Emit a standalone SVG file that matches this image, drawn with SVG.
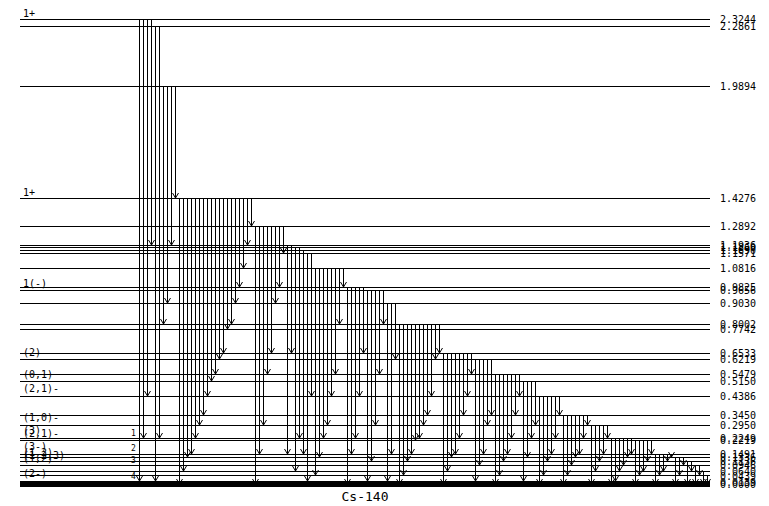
<svg xmlns="http://www.w3.org/2000/svg" width="769" height="506" viewBox="0 0 769 506">
<style>
.lv{stroke:#000;stroke-width:1;fill:none}
.t path{stroke:#000;stroke-width:1;fill:none;marker-end:url(#a)}
.e{font-family:"DejaVu Sans Mono","Liberation Mono",monospace;font-size:10px;fill:#000}
.s{font-family:"DejaVu Sans Mono","Liberation Mono",monospace;font-size:10px;fill:#000}
.d{font-family:"DejaVu Sans Mono","Liberation Mono",monospace;font-size:8px;fill:#000}
.ti{font-family:"DejaVu Sans Mono","Liberation Mono",monospace;font-size:13px;fill:#000}
</style>
<defs>
<marker id="a" markerWidth="10" markerHeight="10" refX="0" refY="0" orient="auto" markerUnits="userSpaceOnUse" style="overflow:visible"><path d="M-5,-3L0,0L-5,3" fill="none" stroke="#000" stroke-width="1"/></marker>
</defs>
<rect width="769" height="506" fill="#fff"/>
<g id="levels">
<g id="L0"><path class="lv" d="M20 19.5H710"/><text class="e" x="720" y="23">2.3244</text><text class="s" x="23" y="17">1+</text></g>
<g id="L1"><path class="lv" d="M20 26.5H710"/><text class="e" x="720" y="30">2.2861</text></g>
<g id="L2"><path class="lv" d="M20 86.5H710"/><text class="e" x="720" y="90">1.9894</text></g>
<g id="L3"><path class="lv" d="M20 198.5H710"/><text class="e" x="720" y="202">1.4276</text><text class="s" x="23" y="196">1+</text></g>
<g id="L4"><path class="lv" d="M20 226.5H710"/><text class="e" x="720" y="230">1.2892</text></g>
<g id="L5"><path class="lv" d="M20 245.5H710"/><text class="e" x="720" y="249">1.1936</text></g>
<g id="L6"><path class="lv" d="M20 247.5H710"/><text class="e" x="720" y="251">1.1860</text></g>
<g id="L7"><path class="lv" d="M20 250.5H710"/><text class="e" x="720" y="254">1.1690</text></g>
<g id="L8"><path class="lv" d="M20 253.5H710"/><text class="e" x="720" y="257">1.1571</text></g>
<g id="L9"><path class="lv" d="M20 268.5H710"/><text class="e" x="720" y="272">1.0816</text></g>
<g id="L10"><path class="lv" d="M20 287.5H710"/><text class="e" x="720" y="291">0.9825</text></g>
<g id="L11"><path class="lv" d="M20 290.5H710"/><text class="e" x="720" y="294">0.9656</text><text class="s" x="23" y="287">1(-)</text></g>
<g id="L12"><path class="lv" d="M20 303.5H710"/><text class="e" x="720" y="307">0.9030</text></g>
<g id="L13"><path class="lv" d="M20 324.5H710"/><text class="e" x="720" y="328">0.8002</text></g>
<g id="L14"><path class="lv" d="M20 329.5H710"/><text class="e" x="720" y="333">0.7742</text></g>
<g id="L15"><path class="lv" d="M20 353.5H710"/><text class="e" x="720" y="357">0.6533</text></g>
<g id="L16"><path class="lv" d="M20 359.5H710"/><text class="e" x="720" y="363">0.6219</text><text class="s" x="23" y="356">(2)</text></g>
<g id="L17"><path class="lv" d="M20 374.5H710"/><text class="e" x="720" y="378">0.5479</text></g>
<g id="L18"><path class="lv" d="M20 381.5H710"/><text class="e" x="720" y="385">0.5150</text><text class="s" x="23" y="378">(0,1)</text></g>
<g id="L19"><path class="lv" d="M20 396.5H710"/><text class="e" x="720" y="400">0.4386</text><text class="s" x="23" y="392">(2,1)-</text></g>
<g id="L20"><path class="lv" d="M20 415.5H710"/><text class="e" x="720" y="419">0.3450</text></g>
<g id="L21"><path class="lv" d="M20 425.5H710"/><text class="e" x="720" y="429">0.2950</text><text class="s" x="23" y="421">(1,0)-</text></g>
<g id="L22"><path class="lv" d="M20 438.5H710"/><text class="e" x="720" y="442">0.2249</text><text class="s" x="23" y="434">(3)</text></g>
<g id="L23"><path class="lv" d="M20 440.5H710"/><text class="e" x="720" y="444">0.2219</text><text class="s" x="23" y="437">(2,1)-</text></g>
<g id="L24"><path class="lv" d="M20 454.5H710"/><text class="e" x="720" y="458">0.1491</text><text class="s" x="23" y="450">(3-)</text></g>
<g id="L25"><path class="lv" d="M20 457.5H710"/><text class="e" x="720" y="461">0.1336</text><text class="s" x="23" y="456">(1,2)</text></g>
<g id="L26"><path class="lv" d="M20 461.5H710"/><text class="e" x="720" y="465">0.1136</text><text class="s" x="23" y="459">(1,2,3)</text></g>
<g id="L27"><path class="lv" d="M20 465.5H710"/><text class="e" x="720" y="469">0.0946</text><text class="s" x="23" y="462">(1,2)</text></g>
<g id="L28"><path class="lv" d="M20 471.5H710"/><text class="e" x="720" y="475">0.0640</text></g>
<g id="L29"><path class="lv" d="M20 475.5H710"/><text class="e" x="720" y="480">0.0439</text></g>
<g id="L30"><path class="lv" d="M20 481.5H710"/><text class="e" x="720" y="486">0.0139</text><text class="s" x="23" y="477">(2-)</text></g>
<g id="L31"><rect x="20" y="481" width="690" height="6" fill="#000"/><text class="e" x="720" y="488">0.0000</text></g>
</g>
<g id="marks">
<text class="d" x="131" y="436">1</text>
<text class="d" x="131" y="451">2</text>
<text class="d" x="131" y="463">3</text>
<text class="d" x="131" y="479">4</text>
</g>
<g id="connectors" class="t">
<path d="M139.5 19V481"/><path d="M143.5 19V438"/><path d="M147.5 19V396"/><path d="M151.5 19V245"/>
<path d="M155.5 26V481"/><path d="M159.5 26V438"/>
<path d="M163.5 86V324"/><path d="M167.5 86V303"/><path d="M171.5 86V245"/><path d="M175.5 86V198"/>
<path d="M179.5 198V484"/><path d="M183.5 198V471"/><path d="M187.5 198V457"/><path d="M191.5 198V454"/><path d="M195.5 198V438"/><path d="M199.5 198V425"/><path d="M203.5 198V415"/><path d="M207.5 198V396"/><path d="M211.5 198V381"/><path d="M215.5 198V374"/><path d="M219.5 198V359"/><path d="M223.5 198V353"/><path d="M227.5 198V329"/><path d="M231.5 198V324"/><path d="M235.5 198V303"/><path d="M239.5 198V287"/><path d="M243.5 198V268"/><path d="M247.5 198V245"/><path d="M251.5 198V226"/>
<path d="M255.5 226V484"/><path d="M259.5 226V454"/><path d="M263.5 226V425"/><path d="M267.5 226V374"/><path d="M271.5 226V353"/><path d="M275.5 226V303"/><path d="M279.5 226V287"/><path d="M283.5 226V253"/>
<path d="M287.5 245V454"/><path d="M291.5 245V353"/>
<path d="M295.5 247V471"/><path d="M299.5 247V438"/>
<path d="M303.5 250V454"/>
<path d="M307.5 253V481"/><path d="M311.5 253V396"/>
<path d="M315.5 268V475"/><path d="M319.5 268V457"/><path d="M323.5 268V438"/><path d="M327.5 268V425"/><path d="M331.5 268V396"/><path d="M335.5 268V374"/><path d="M339.5 268V324"/><path d="M343.5 268V287"/>
<path d="M347.5 287V484"/><path d="M351.5 287V454"/><path d="M355.5 287V438"/><path d="M359.5 287V396"/><path d="M363.5 287V353"/>
<path d="M367.5 290V481"/><path d="M371.5 290V461"/><path d="M375.5 290V425"/><path d="M379.5 290V374"/><path d="M383.5 290V324"/>
<path d="M387.5 303V481"/><path d="M391.5 303V454"/><path d="M395.5 303V359"/>
<path d="M399.5 324V484"/><path d="M403.5 324V475"/><path d="M407.5 324V461"/><path d="M411.5 324V454"/><path d="M415.5 324V440"/><path d="M419.5 324V438"/><path d="M423.5 324V425"/><path d="M427.5 324V415"/><path d="M431.5 324V396"/><path d="M435.5 324V359"/><path d="M439.5 324V353"/>
<path d="M443.5 353V484"/><path d="M447.5 353V471"/><path d="M451.5 353V457"/><path d="M455.5 353V454"/><path d="M459.5 353V438"/><path d="M463.5 353V415"/><path d="M467.5 353V396"/><path d="M471.5 353V374"/>
<path d="M475.5 359V481"/><path d="M479.5 359V465"/><path d="M483.5 359V454"/><path d="M487.5 359V425"/><path d="M491.5 359V415"/>
<path d="M495.5 374V484"/><path d="M499.5 374V475"/><path d="M503.5 374V461"/><path d="M507.5 374V454"/><path d="M511.5 374V438"/><path d="M515.5 374V415"/><path d="M519.5 374V396"/>
<path d="M523.5 381V481"/><path d="M527.5 381V457"/><path d="M531.5 381V438"/><path d="M535.5 381V425"/>
<path d="M539.5 396V484"/><path d="M543.5 396V475"/><path d="M547.5 396V461"/><path d="M551.5 396V454"/><path d="M555.5 396V438"/><path d="M559.5 396V415"/>
<path d="M563.5 415V484"/><path d="M567.5 415V475"/><path d="M571.5 415V465"/><path d="M575.5 415V457"/><path d="M579.5 415V454"/><path d="M583.5 415V438"/><path d="M587.5 415V425"/>
<path d="M591.5 425V484"/><path d="M595.5 425V471"/><path d="M599.5 425V461"/><path d="M603.5 425V454"/><path d="M607.5 425V438"/>
<path d="M611.5 438V484"/><path d="M615.5 438V481"/><path d="M619.5 438V471"/><path d="M623.5 438V465"/><path d="M627.5 438V457"/><path d="M631.5 438V454"/>
<path d="M635.5 440V484"/><path d="M639.5 440V475"/><path d="M643.5 440V471"/><path d="M647.5 440V461"/><path d="M651.5 440V454"/>
<path d="M655.5 454V484"/><path d="M659.5 454V475"/><path d="M663.5 454V471"/><path d="M667.5 454V461"/><path d="M671.5 454V457"/>
<path d="M675.5 457V484"/><path d="M679.5 457V475"/><path d="M683.5 457V465"/>
<path d="M687.5 461V484"/><path d="M691.5 461V471"/>
<path d="M695.5 465V484"/><path d="M699.5 465V475"/>
<path d="M703.5 471V484"/>
<path d="M707.5 475V484"/>
</g>
<text class="ti" x="365" y="501" text-anchor="middle">Cs-140</text>
</svg>
